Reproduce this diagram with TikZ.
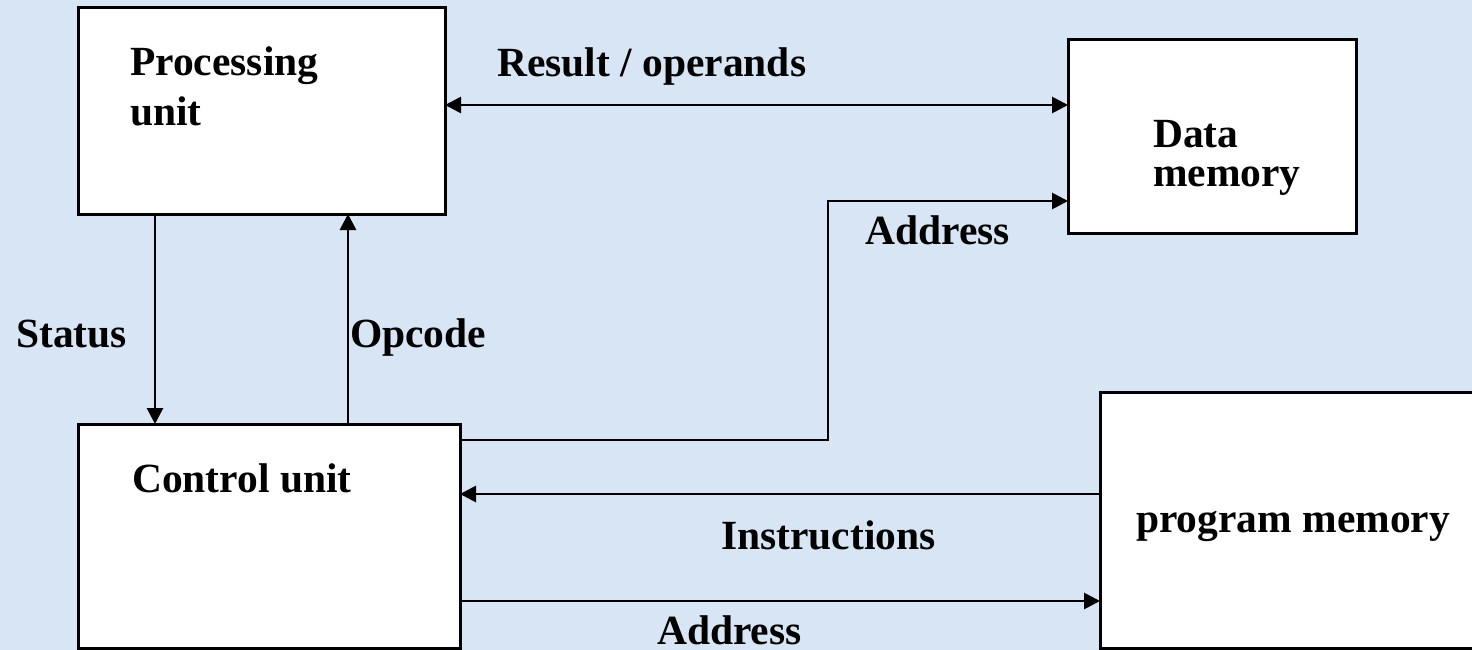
\documentclass[tikz,border=0pt]{standalone}
\usepackage{fontspec}
\setmainfont{Liberation Serif}
\usetikzlibrary{calc}
\usetikzlibrary{arrows.meta}
\definecolor{paper}{RGB}{216,229,245}
\tikzset{
 unitbox/.style={draw=black, line width=3pt, fill=white, anchor=north west, inner sep=0, outer sep=0},
 lbl/.style={anchor=base west, inner sep=0, font=\fontsize{41.5}{50}\selectfont\bfseries},
 bus/.style={line width=2.8pt, >={Triangle[length=16pt,width=16pt]}}
}

\begin{document}
\begin{tikzpicture} [x=1pt,y=-1pt]
\coordinate (O) at (0,0);
\clip (O) rectangle (1472,650);
\fill[paper] (O) rectangle (1472,650);
% the four blocks
\node[unitbox, minimum width=367, minimum height=206] (pu) at (78,8) {};
\node[unitbox, minimum width=288, minimum height=193] (dm) at (1068,40) {};
\node[unitbox, minimum width=382, minimum height=224] (cu) at (78,424) {};
\node[unitbox, minimum width=390, minimum height=256] (pm) at (1100,392) {};
\node[lbl] (puA) at (130,76) {Processing};
\node[lbl] (puB) at (130,126) {unit};
\node[lbl] (dmA) at (1153,148) {Data};
\node[lbl] (dmB) at (1153,186) {memory};
\node[lbl] (cuT) at (132,492) {Control unit};
\node[lbl] (pmT) at (1136,532) {program memory};
% buses
\draw[bus, <->] ($(pu.north east)+(0,97)$) -- ($(dm.north west)+(0,65)$);
\draw[bus, ->] ($(pu.south west)+(77,0)$) -- ($(cu.north west)+(77,0)$);
\draw[bus, ->] ($(cu.north west)+(270,0)$) -- ($(pu.south west)+(270,0)$);
\coordinate (bend) at (828,201);
\draw[bus, ->] ($(cu.north east)+(0,16)$) -| (bend) -- ($(dm.north west)+(0,161)$);
\draw[bus, ->] ($(pm.north west)+(0,102)$) -- ($(cu.north east)+(0,70)$);
\draw[bus, ->] ($(cu.north east)+(0,177)$) -- ($(pm.north west)+(0,209)$);
\node[lbl] (res) at (497,77) {Result / operands};
\node[lbl] (adrA) at (865,244) {Address};
\node[lbl] (sts) at (16,347) {Status};
\node[lbl] (opc) at (350,347) {Opcode};
\node[lbl] (ins) at (721,549) {Instructions};
\node[lbl] (adrB) at (657,644) {Address};
\end{tikzpicture}
\end{document}
